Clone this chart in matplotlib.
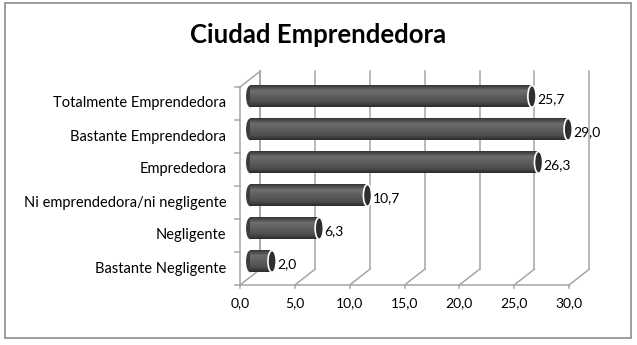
import numpy as np
import matplotlib.pyplot as plt
from matplotlib.patches import Rectangle, Ellipse

categories = ["Bastante Negligente", "Negligente", "Ni emprendedora/ni negligente",
              "Emprededora", "Bastante Emprendedora", "Totalmente Emprendedora"]
values = [2.0, 6.3, 10.7, 26.3, 29.0, 25.7]
value_labels = ["2,0", "6,3", "10,7", "26,3", "29,0", "25,7"]
xticks = [0, 5, 10, 15, 20, 25, 30]
xtick_labels = ["0,0", "5,0", "10,0", "15,0", "20,0", "25,0", "30,0"]

plt.rcParams['font.family'] = ['Lato', 'DejaVu Sans']

W, H = 637, 345
fig = plt.figure(figsize=(W / 100, H / 100), dpi=100)
fig.patch.set_facecolor("white")

# outer chart border
fig.add_artist(Rectangle((5 / W, 7 / H), 626 / W, 335 / H, transform=fig.transFigure,
                         fill=False, edgecolor="#8c8c8c", linewidth=1.2))
fig.text(0.5, 1 - 35 / H, "Ciudad Emprendedora", ha="center", va="center",
         fontsize=18.5, fontweight="bold", color="black")

ax = fig.add_axes([240 / W, (H - 285) / H, 329 / W, 198 / H])
n = len(categories)
y0, y1 = -0.5, n - 0.5
ax.set_xlim(0, 30)
ax.set_ylim(y0, y1)
ax.axis("off")

dx, dy = 1.85, 0.48   # depth offset of the back wall (data units)
grid = "#a6a6a6"
lw = 1.1

# left wall
ax.plot([0, 0], [y0, y1], color=grid, lw=lw, clip_on=False)
ax.plot([dx, dx], [y0 + dy, y1 + dy], color=grid, lw=lw, clip_on=False)
ax.plot([0, dx], [y1, y1 + dy], color=grid, lw=lw, clip_on=False)
# floor front edge
ax.plot([0, 30], [y0, y0], color=grid, lw=lw, clip_on=False)
# back wall gridlines + floor diagonals
for t, lab in zip(xticks, xtick_labels):
    ax.plot([t + dx, t + dx], [y0 + dy, y1 + dy], color=grid, lw=lw, clip_on=False)
    ax.plot([t, t + dx], [y0, y0 + dy], color=grid, lw=lw, clip_on=False)
    ax.plot([t, t], [y0, y0 - 0.1], color=grid, lw=lw, clip_on=False)
    ax.text(t, y0 - 0.55, lab, ha="center", va="center", fontsize=10, color="black")
# category ticks on the left wall
for k in range(n + 1):
    yk = y0 + k
    ax.plot([-0.45, 0], [yk, yk], color=grid, lw=lw, clip_on=False)
for i, c in enumerate(categories):
    ax.text(-1.25, i, c, ha="right", va="center", fontsize=10.5, color="black")

# cylinders
bh = 0.66
grad = np.concatenate([np.linspace(0.22, 0.42, 6), np.linspace(0.42, 0.32, 10),
                       np.linspace(0.32, 0.18, 6)])
img = np.stack([grad] * 3, axis=-1)[:, None, :]
for i, v in enumerate(values):
    yc = i + dy * 0.45
    x_start = dx * 0.5
    x_end = v + dx * 0.5
    ax.imshow(img, extent=(x_start, x_end, yc - bh / 2, yc + bh / 2), aspect="auto",
              interpolation="bilinear", zorder=3, clip_on=False)
    ax.add_patch(Ellipse((x_start, yc), 0.75, bh, facecolor="#3d3d3d",
                         edgecolor="none", zorder=2.9, clip_on=False))
    ax.add_patch(Ellipse((x_end, yc), 0.75, bh, facecolor="#2e2e2e",
                         edgecolor="white", lw=1.2, zorder=4, clip_on=False))
    ax.text(x_end + 0.45, yc - 0.08, value_labels[i], ha="left", va="center",
            fontsize=10, color="black", zorder=5)

ax.set_xlim(0, 30)
ax.set_ylim(y0, y1)
fig.savefig("out.png", dpi=100, facecolor="white")
